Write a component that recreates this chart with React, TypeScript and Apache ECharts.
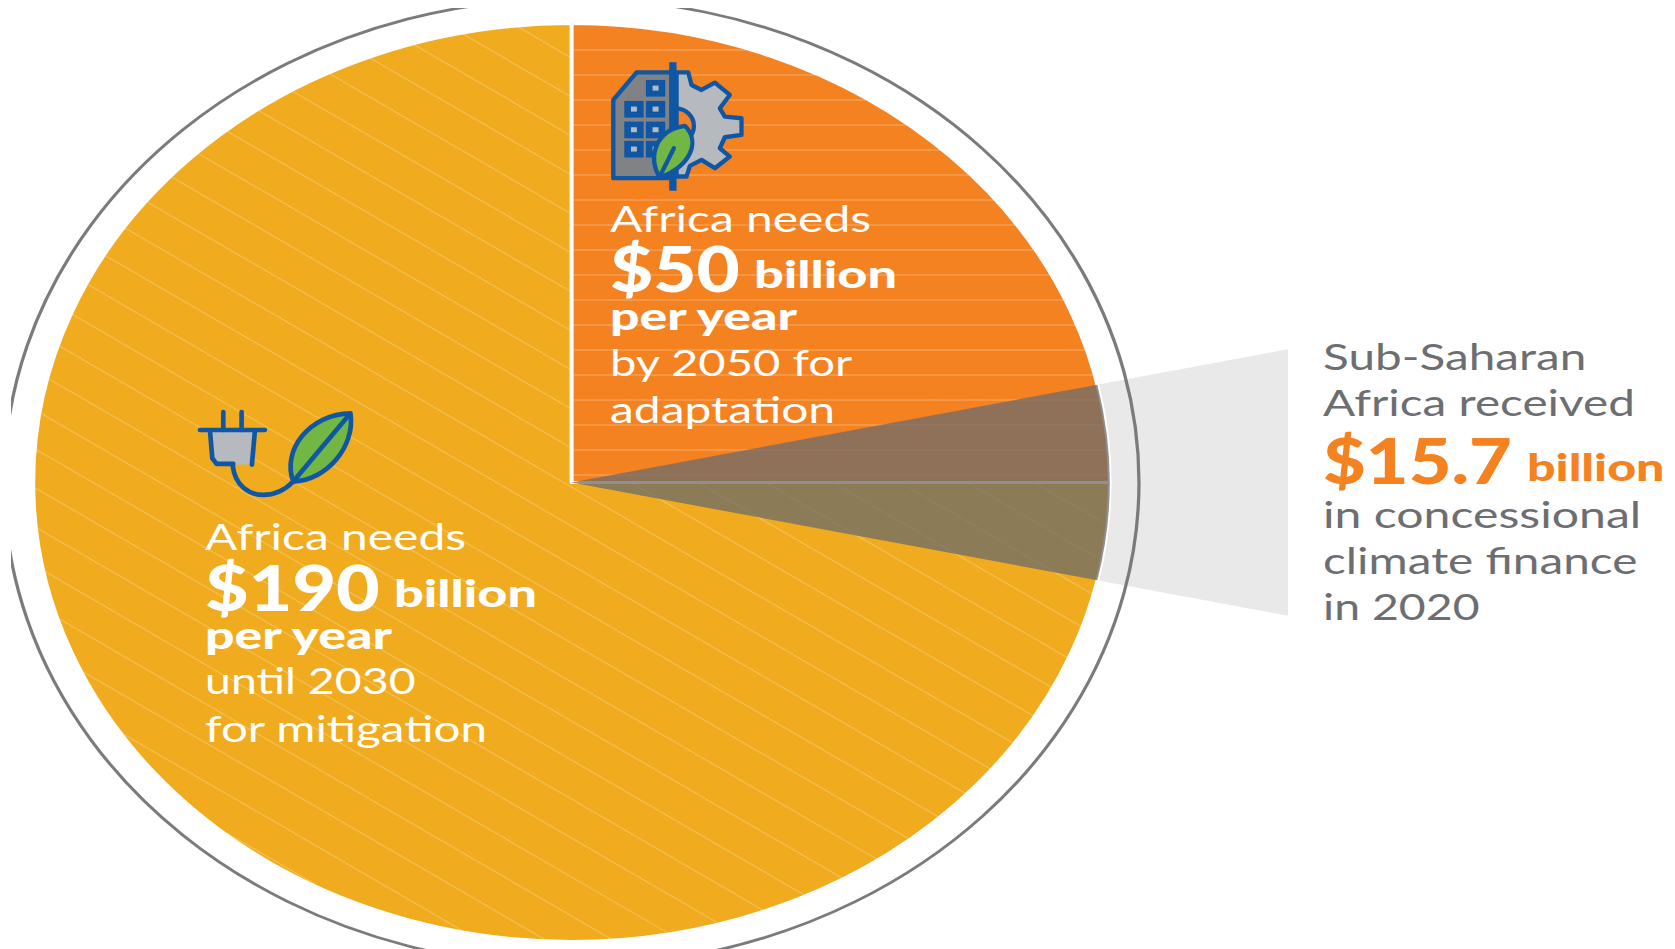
import React, { useEffect, useRef } from "react";
import * as echarts from "echarts";

// Needs and flows, in US$ billion
const mitigationNeed = 190;
const adaptationNeed = 50;
const concessionalFinance = 15.7;

// The graphic draws adaptation as a fixed quarter of the disc, so each need
// keeps its own value and its own angular span instead of sharing one scale.
const adaptationSpan = [90, 0];
const mitigationSpan = [0, -270];
const degreesPerBillion = 1.567;

const mitigationLines = ["Africa needs", "until 2030", "for mitigation"];
const adaptationLines = ["Africa needs", "by 2050 for", "adaptation"];
const financeLines = ["Sub-Saharan", "Africa received", "in concessional", "climate finance", "in 2020"];

const ORANGE = "#F58220";
const AMBER = "#F0AB1E";
const BLUE = "#0F57A5";
const GREEN = "#72B743";
const SILVER = "#B6B9BD";
const TEXT_GREY = "#6D6E71";

// The whole drawing is widened horizontally; coordinates below are page pixels.
const STRETCH = 1.1725;
const PAGE_W = 1675;
const PAGE_H = 949;
const CX = 571.5 / STRETCH;
const CY = 482.5;
const DISC_R = 459;
const RING_R = 484;
const WEDGE_END_X = 1288 / STRETCH;

const sx = (x: number) => x / STRETCH;

echarts.graphic.registerShape(
  "buildingLeaf",
  echarts.graphic.extendPath("M345 258 C 388 300 372 372 270 414 C 232 350 258 270 345 258 Z", {})
);
echarts.graphic.registerShape(
  "plugLeaf",
  echarts.graphic.extendPath("M340 275 C 305 180 390 72 512 70 C 527 170 440 272 340 275 Z", {})
);
echarts.graphic.registerShape(
  "plugCord",
  echarts.graphic.extendPath("M158 225 C 165 290 210 315 250 315 C 285 315 315 300 340 275", {})
);

// Text sits on a page-pixel baseline; widen adds the extra horizontal set of the lettering.
const text = (content: string, x: number, baseline: number, size: number, weight: number, fill: string, widen: number) => ({
  type: "text",
  z: 30,
  silent: true,
  x: sx(x),
  y: baseline - size * 0.35,
  scaleX: widen,
  style: {
    text: content,
    x: 0,
    y: 0,
    fill,
    font: `${weight} ${size}px Lato, sans-serif`,
    align: "left",
    verticalAlign: "middle",
  },
});

// Chords of the disc, with the adaptation quarter left out of the diagonal set.
function hatchLines() {
  const out: any[] = [];
  const hatchR = DISC_R - 1.5;
  const stroke = (x1: number, y1: number, x2: number, y2: number, color: string, lineWidth: number) =>
    out.push({
      type: "line",
      z: 5,
      silent: true,
      shape: { x1, y1, x2, y2 },
      style: { stroke: color, lineWidth },
    });

  const slope = 0.58 * STRETCH;
  for (let k = -30; k <= 30; k++) {
    const y0 = 58 + 39 * k;
    const a = 1 + slope * slope;
    const b = 2 * slope * (y0 - CY);
    const c = (y0 - CY) * (y0 - CY) - hatchR * hatchR;
    const disc = b * b - 4 * a * c;
    if (disc <= 0) continue;
    const from = (-b - Math.sqrt(disc)) / (2 * a);
    const to = (-b + Math.sqrt(disc)) / (2 * a);
    const yAt = (d: number) => y0 + slope * d;
    const color = "rgba(255,255,255,0.24)";
    if (y0 >= CY) {
      stroke(CX + from, yAt(from), CX + to, yAt(to), color, 1.2);
    } else {
      const exit = (CY - y0) / slope;
      if (from < -1.5) stroke(CX + from, yAt(from), CX + Math.min(to, -1.5), yAt(Math.min(to, -1.5)), color, 1.2);
      if (to > exit) stroke(CX + Math.max(from, exit), yAt(Math.max(from, exit)), CX + to, yAt(to), color, 1.2);
    }
  }
  for (let y = 50; y < CY; y += 25) {
    const half = Math.sqrt(hatchR * hatchR - (y - CY) * (y - CY));
    stroke(CX + 1.5, y, CX + half, y, "rgba(255,255,255,0.17)", 1.8);
  }
  return out;
}

function buildingIcon() {
  const line = { stroke: BLUE, lineWidth: 13, lineJoin: "round" };
  const kids: any[] = [
    {
      type: "polygon",
      z: 20,
      shape: { points: [[320, 97], [355, 97], [365, 135], [395, 150], [435, 128], [480, 165], [450, 205], [465, 230], [515, 235], [515, 285], [465, 292], [450, 325], [480, 350], [435, 385], [395, 360], [360, 378], [350, 410], [320, 410]] },
      style: { fill: SILVER, ...line },
    },
    {
      type: "sector",
      z: 21,
      shape: { cx: 320, cy: 258, r: 52, r0: 0, startAngle: -Math.PI / 2, endAngle: Math.PI / 2 },
      style: { fill: ORANGE, ...line },
    },
    {
      type: "polygon",
      z: 21,
      shape: { points: [[130, 180], [200, 97], [305, 97], [305, 415], [130, 415]] },
      style: { fill: "#808285", ...line },
    },
  ];
  const windows = [[228, 120], [163, 183], [228, 183], [163, 245], [228, 245], [163, 303], [228, 303]];
  windows.forEach(([x, y]) => {
    kids.push({ type: "rect", z: 22, shape: { x, y, width: 58, height: 50 }, style: { fill: BLUE } });
    kids.push({ type: "rect", z: 23, shape: { x: x + 20, y: y + 17, width: 18, height: 15 }, style: { fill: SILVER } });
  });
  kids.push(
    { type: "rect", z: 24, shape: { x: 298, y: 67, width: 22, height: 386 }, style: { fill: BLUE } },
    { type: "buildingLeaf", z: 25, style: { fill: GREEN, ...line } },
    {
      type: "line",
      z: 26,
      shape: { x1: 272, y1: 405, x2: 312, y2: 325 },
      style: { stroke: BLUE, lineWidth: 13, lineCap: "round" },
    }
  );
  return { type: "group", x: 570, y: 40, scaleX: 1 / 3, scaleY: 1 / 3, silent: true, children: kids };
}

function plugIcon() {
  const line = { stroke: BLUE, lineWidth: 14, lineJoin: "round", lineCap: "round" };
  return {
    type: "group",
    x: 180,
    y: 390,
    scaleX: 1 / 3,
    scaleY: 1 / 3,
    silent: true,
    children: [
      { type: "polygon", z: 20, shape: { points: [[90, 122], [222, 122], [215, 224], [112, 224], [98, 210]] }, style: { fill: SILVER } },
      { type: "polyline", z: 21, shape: { points: [[90, 122], [97, 205], [110, 222], [160, 222]] }, style: { fill: "none", ...line } },
      { type: "line", z: 21, shape: { x1: 225, y1: 122, x2: 216, y2: 224 }, style: line },
      { type: "line", z: 21, shape: { x1: 60, y1: 120, x2: 255, y2: 120 }, style: line },
      { type: "line", z: 21, shape: { x1: 130, y1: 66, x2: 130, y2: 120 }, style: line },
      { type: "line", z: 21, shape: { x1: 185, y1: 66, x2: 185, y2: 120 }, style: line },
      { type: "plugCord", z: 21, style: { fill: "none", ...line } },
      { type: "plugLeaf", z: 22, style: { fill: GREEN, ...line } },
      { type: "line", z: 23, shape: { x1: 340, y1: 275, x2: 510, y2: 72 }, style: line },
    ],
  };
}

function buildOption() {
  const halfWedge = (concessionalFinance * degreesPerBillion) / 2;
  const wedgeSlope = Math.tan((halfWedge * Math.PI) / 180);

  const slice = (value: number, name: string, color: string, span: number[], z: number, border: boolean) => ({
    type: "pie",
    silent: true,
    z,
    center: [CX, CY],
    radius: [0, DISC_R],
    startAngle: span[0],
    endAngle: span[1],
    clockwise: true,
    label: { show: false },
    labelLine: { show: false },
    emphasis: { disabled: true },
    data: [
      {
        value,
        name,
        itemStyle: { color, borderColor: border ? "#FFFFFF" : undefined, borderWidth: border ? 3.2 : 0 },
      },
    ],
  });

  const WHITE = "#FFFFFF";
  return {
    animation: false,
    backgroundColor: WHITE,
    tooltip: { show: false },
    series: [
      {
        // Pale beam carrying the concessional finance out of the disc
        type: "custom",
        coordinateSystem: "none",
        silent: true,
        z: 1,
        data: [concessionalFinance],
        renderItem: () => {
          const rise = (WEDGE_END_X - CX) * wedgeSlope;
          return {
            type: "polygon",
            shape: { points: [[CX, CY], [WEDGE_END_X, CY - rise], [WEDGE_END_X, CY + rise]] },
            style: { fill: "#E9E9EA" },
          };
        },
      },
      slice(adaptationNeed, "Adaptation", ORANGE, adaptationSpan, 2, true),
      slice(mitigationNeed, "Mitigation", AMBER, mitigationSpan, 2, true),
      slice(concessionalFinance, "Concessional climate finance", "rgba(107,107,107,0.75)", [halfWedge, -halfWedge], 8, false),
    ],
    graphic: {
      elements: [
        ...hatchLines(),
        { type: "circle", z: 10, silent: true, shape: { cx: CX, cy: CY, r: RING_R }, style: { fill: "none", stroke: "#7A7B7D", lineWidth: 2.8 } },
        { type: "rect", z: 11, silent: true, shape: { x: 0, y: 0, width: PAGE_W, height: 8 }, style: { fill: WHITE } },
        { type: "rect", z: 11, silent: true, shape: { x: 0, y: 0, width: sx(11), height: PAGE_H }, style: { fill: WHITE } },
        { type: "group", scaleX: 1 / STRETCH, silent: true, children: [plugIcon(), buildingIcon()] },

        text(mitigationLines[0], 205, 549, 37, 400, WHITE, 1.105),
        text("$190", 205, 609, 63, 900, WHITE, 1.02),
        text("billion", 394, 606, 38, 900, WHITE, 1.17),
        text("per year", 205, 648, 38, 900, WHITE, 1.16),
        text(mitigationLines[1], 205, 693, 37, 400, WHITE, 1.07),
        text(mitigationLines[2], 205, 741, 37, 400, WHITE, 1.096),

        text(adaptationLines[0], 610, 231, 37, 400, WHITE, 1.105),
        text("$50", 610, 290, 63, 900, WHITE, 1.01),
        text("billion", 754, 287, 38, 900, WHITE, 1.17),
        text("per year", 610, 329, 38, 900, WHITE, 1.16),
        text(adaptationLines[1], 610, 375, 37, 400, WHITE, 1.087),
        text(adaptationLines[2], 610, 422, 37, 400, WHITE, 1.105),

        text(financeLines[0], 1323, 369, 37, 400, TEXT_GREY, 1.1),
        text(financeLines[1], 1323, 415, 37, 400, TEXT_GREY, 1.1),
        text("$15.7", 1323, 482, 63, 900, ORANGE, 1),
        text("billion", 1527, 479, 38, 900, ORANGE, 1.125),
        text(financeLines[2], 1323, 527, 37, 400, TEXT_GREY, 1.11),
        text(financeLines[3], 1323, 573, 37, 400, TEXT_GREY, 1.1),
        text(financeLines[4], 1323, 619, 37, 400, TEXT_GREY, 1.07),
      ],
    },
  };
}

export default function App() {
  const ref = useRef<HTMLDivElement>(null);
  useEffect(() => {
    document.body.style.margin = "0";
    document.body.style.overflow = "hidden";
    const chart = echarts.init(ref.current!, null, { renderer: "svg" });
    chart.setOption(buildOption() as any);
    return () => chart.dispose();
  }, []);
  return (
    <div
      ref={ref}
      style={{
        position: "absolute",
        left: 0,
        top: 0,
        width: PAGE_W / STRETCH,
        height: PAGE_H,
        transform: `scale(${STRETCH}, 1)`,
        transformOrigin: "0 0",
      }}
    />
  );
}
